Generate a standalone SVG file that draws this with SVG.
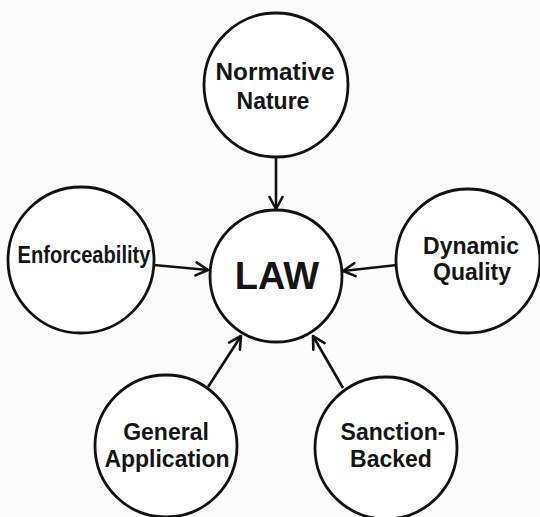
<svg xmlns="http://www.w3.org/2000/svg" width="540" height="517" viewBox="0 0 540 517">
  <defs>
    <marker id="arr" viewBox="0 0 16 16" refX="14" refY="8" markerWidth="16" markerHeight="16" markerUnits="userSpaceOnUse" orient="auto">
      <path d="M2,1.5 L14,8 L2,14.5" fill="none" stroke="#111" stroke-width="2.6" stroke-linecap="round" stroke-linejoin="round"/>
    </marker>
    <style>
      .node { fill: #fff; stroke: #111; stroke-width: 2.8; }
      .lbl { font-family: "Liberation Sans", Arial, sans-serif; font-weight: bold; font-size: 23px; fill: #151515; text-anchor: middle; }
      .big { font-size: 38px; }
      .edge { stroke: #111; stroke-width: 2.6; fill: none; marker-end: url(#arr); }
    </style>
  </defs>
  <rect width="540" height="517" fill="#fbfbfb"/>
  <g id="connectors">
    <line class="edge" x1="276" y1="158" x2="276" y2="209"/>
    <line class="edge" x1="154" y1="265" x2="208" y2="270"/>
    <line class="edge" x1="397" y1="265" x2="343" y2="271"/>
    <line class="edge" x1="208" y1="387" x2="241" y2="336"/>
    <line class="edge" x1="343" y1="388" x2="313" y2="336"/>
  </g>
  <g id="law">
    <circle class="node" cx="276" cy="276" r="66"/>
    <text class="lbl big" x="277" y="289">LAW</text>
  </g>
  <g id="normative">
    <circle class="node" cx="276" cy="85" r="72"/>
    <text class="lbl" x="275" y="80" textLength="119" lengthAdjust="spacingAndGlyphs">Normative</text>
    <text class="lbl" x="273" y="109">Nature</text>
  </g>
  <g id="enforceability">
    <circle class="node" cx="81" cy="260" r="73"/>
    <text class="lbl" x="84" y="263" textLength="133" lengthAdjust="spacingAndGlyphs">Enforceability</text>
  </g>
  <g id="dynamic">
    <circle class="node" cx="468" cy="261" r="72"/>
    <text class="lbl" x="471" y="254">Dynamic</text>
    <text class="lbl" x="472" y="280">Quality</text>
  </g>
  <g id="general">
    <circle class="node" cx="166" cy="446" r="71"/>
    <text class="lbl" x="166" y="440">General</text>
    <text class="lbl" x="167" y="467">Application</text>
  </g>
  <g id="sanction">
    <circle class="node" cx="386" cy="448" r="71"/>
    <text class="lbl" x="393" y="440">Sanction-</text>
    <text class="lbl" x="391" y="467">Backed</text>
  </g>
</svg>
